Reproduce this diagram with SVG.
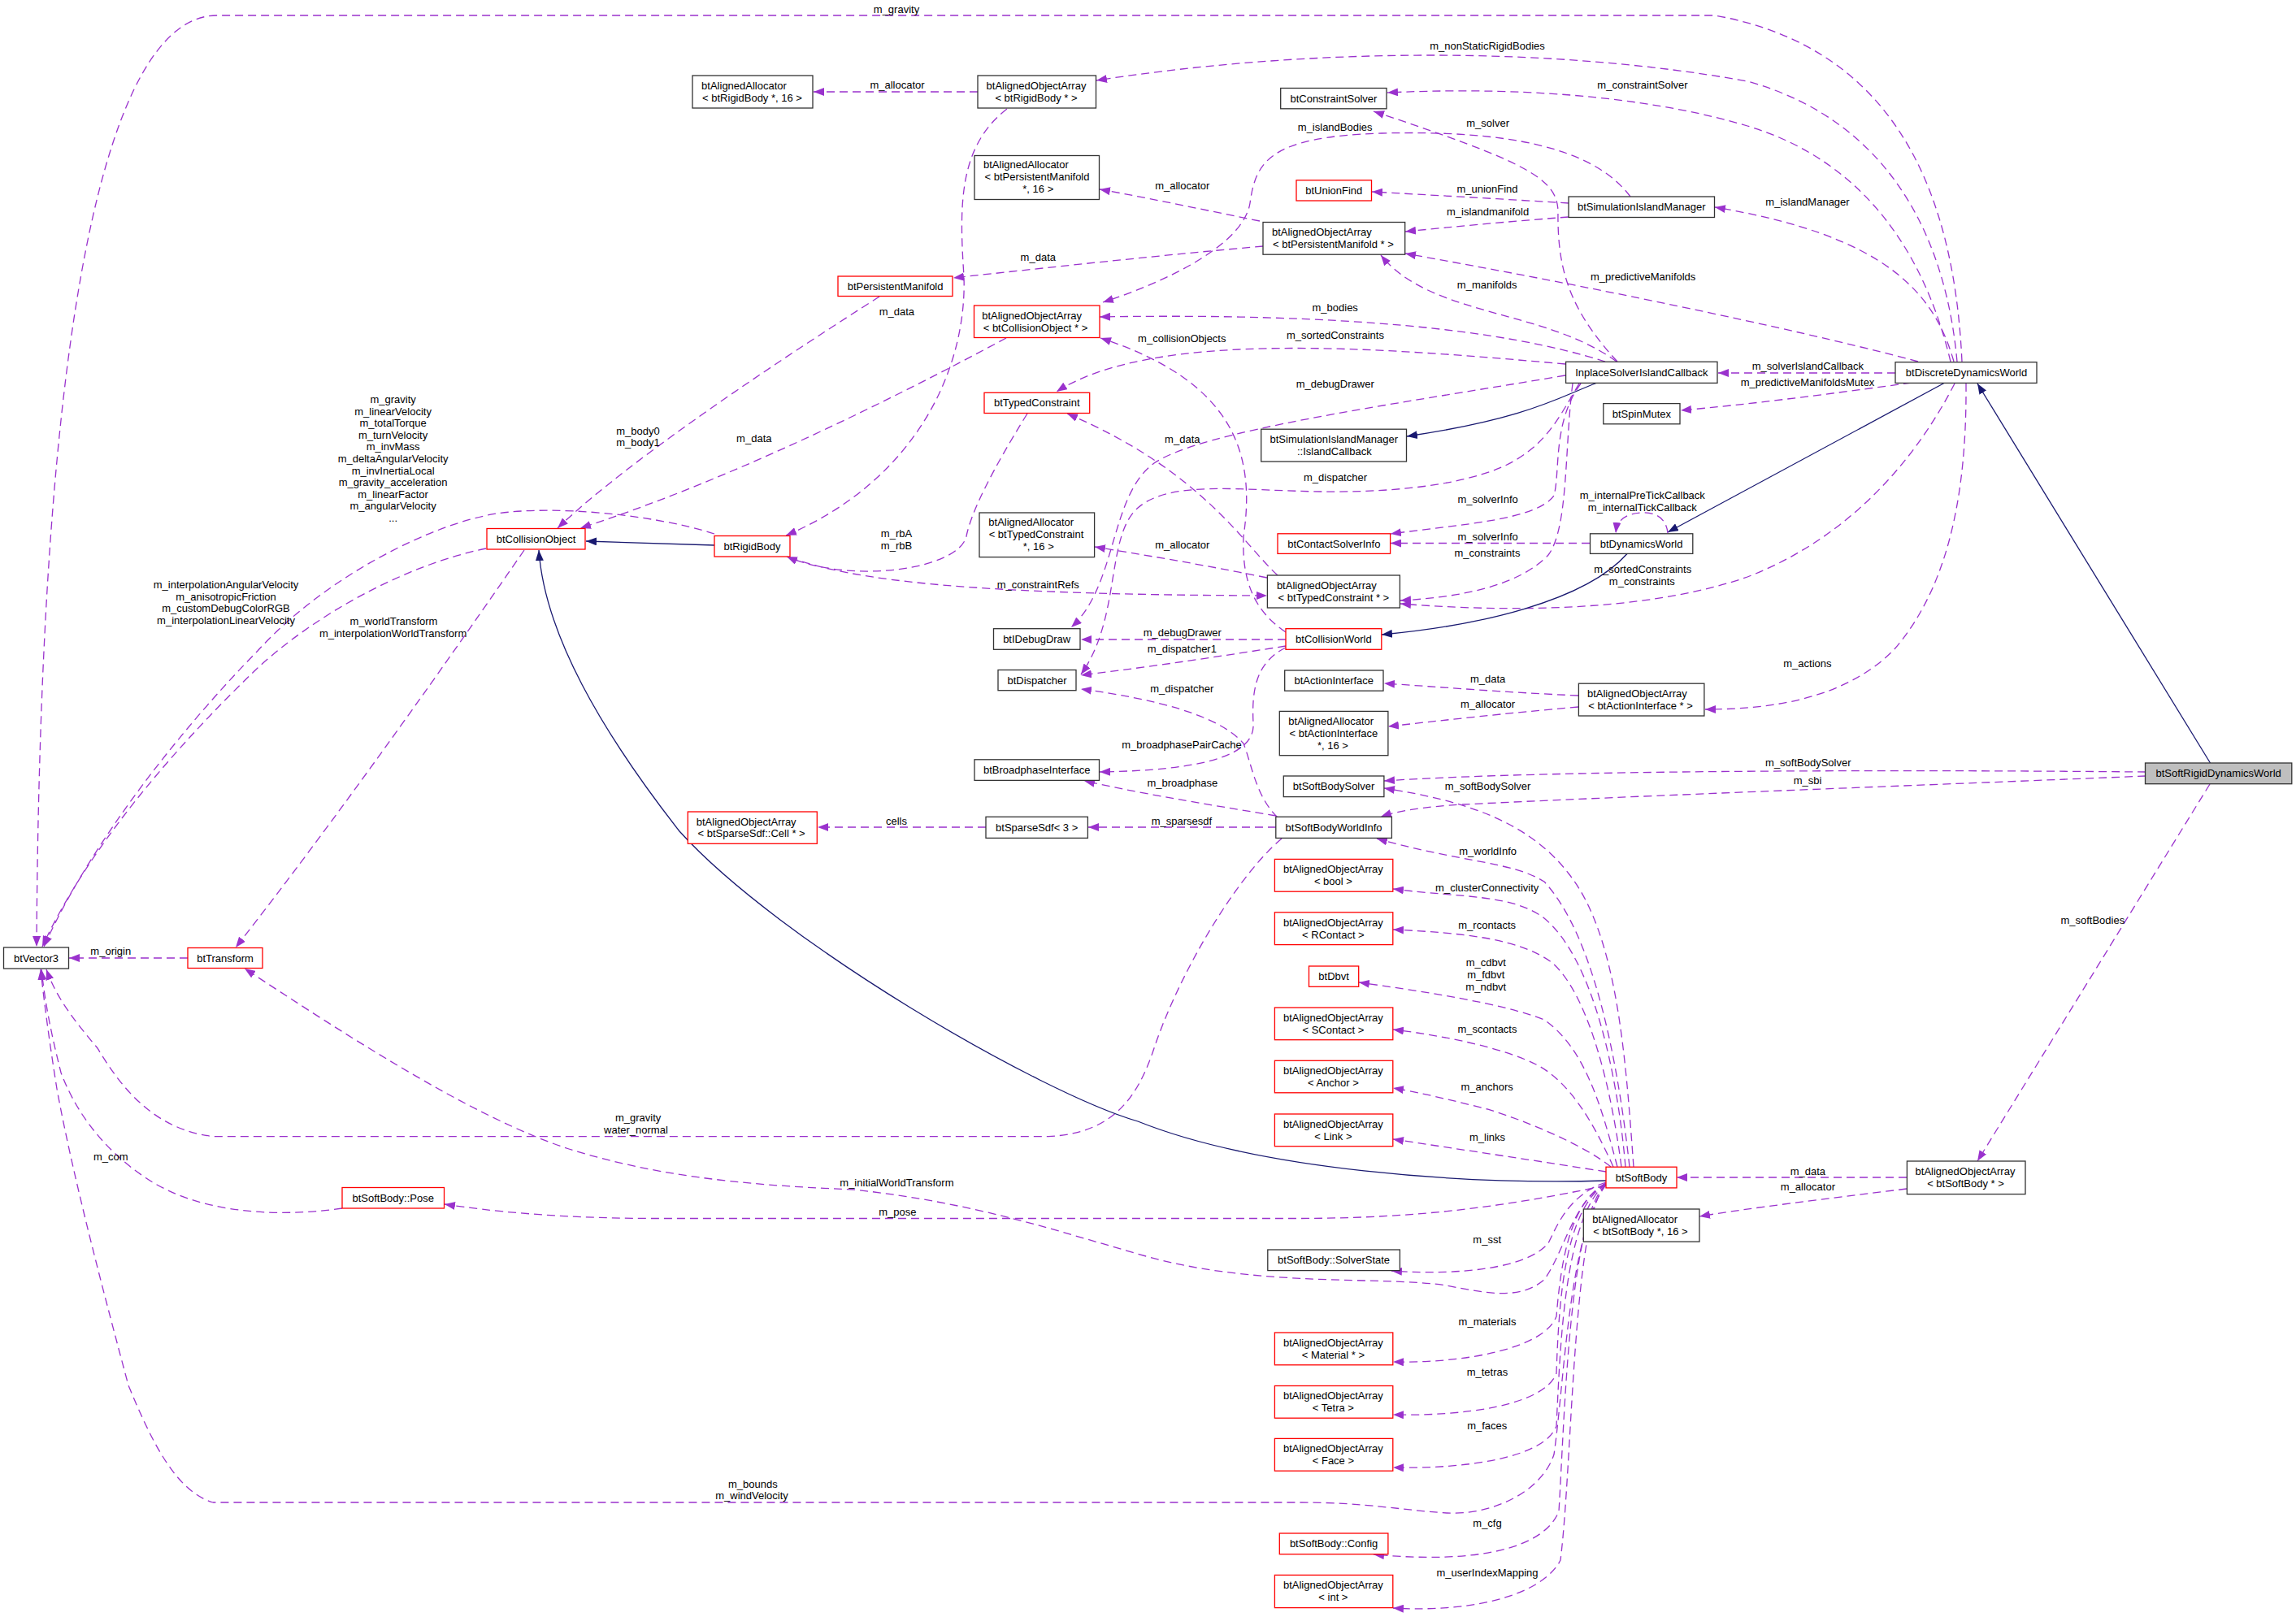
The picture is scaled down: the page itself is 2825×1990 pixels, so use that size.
<svg xmlns="http://www.w3.org/2000/svg" width="2825" height="1990" viewBox="0 0 2825 1990">
<style>
text{font-family:"Liberation Sans",Arial,sans-serif;font-size:13px;text-anchor:middle;dominant-baseline:central;fill:#000}
.n rect{fill:#fff;stroke:#333;stroke-width:1.3}
.r rect{stroke:#f00}
.g rect{fill:#bfbfbf}
.e{fill:none;stroke:#9a32cd;stroke-width:1.3;stroke-dasharray:10,6;marker-end:url(#ap)}
.i{fill:none;stroke:#191970;stroke-width:1.3;marker-end:url(#an)}
</style>
<defs>
<marker id="ap" viewBox="0 0 13 10" markerWidth="13" markerHeight="10" refX="13" refY="5" orient="auto" markerUnits="userSpaceOnUse"><path d="M0,0L13,5L0,10z" fill="#9a32cd"/></marker>
<marker id="an" viewBox="0 0 13 10" markerWidth="13" markerHeight="10" refX="13" refY="5" orient="auto" markerUnits="userSpaceOnUse"><path d="M0,0L13,5L0,10z" fill="#191970"/></marker>
</defs>
<rect width="2825" height="1990" fill="#fff"/>
<g id="connectors">
<path class="e" d="M2414,445 C2405,250 2340,60 2110,19 L267,19 C150,19 50,300 45,1165"/>
<path class="e" d="M2408,445 C2395,300 2330,150 2150,100 C1900,55 1600,60 1349,99"/>
<path class="e" d="M2400,445 C2370,320 2300,200 2150,155 C2050,125 1900,105 1707,114"/>
<path class="e" d="M2404,445 C2380,360 2320,290 2110,255"/>
<path class="e" d="M2360,445 C2250,415 2000,360 1729,312"/>
<path class="e" d="M2332,459 L2114,459"/>
<path class="e" d="M2352,471 C2250,485 2150,498 2068,505"/>
<path class="i" d="M2392,471.5 L2052,655"/>
<path class="e" d="M2419,472 C2420,600 2400,720 2330,800 C2270,860 2180,873 2098,873"/>
<path class="e" d="M2405,472 C2360,560 2280,660 2150,710 C2050,745 1900,757 1723,743"/>
<path class="i" d="M2719.5,939 L2433,472"/>
<path class="e" d="M2640,950 C2300,947 1900,948 1703,961"/>
<path class="e" d="M2640,955 C2400,965 2000,980 1800,990 C1750,993 1720,998 1699,1005"/>
<path class="e" d="M2719,965 L2433,1429"/>
<path class="e" d="M2346,1449 L2063,1449"/>
<path class="e" d="M2346,1463 C2250,1475 2150,1487 2091,1497"/>
<path class="e" d="M1930,267 C1850,273 1790,279 1729,285"/>
<path class="e" d="M1930,250 C1850,245 1760,240 1688,236"/>
<path class="e" d="M2006,242 C1960,180 1850,160 1700,164 C1560,168 1545,200 1538,250 C1530,300 1440,345 1357,372"/>
<path class="e" d="M1990,445 C1930,380 1916,330 1917,260 C1916,220 1880,200 1690,137"/>
<path class="e" d="M1989,445 C1900,380 1760,390 1699,314"/>
<path class="e" d="M1975,445 C1850,405 1650,385 1353,390"/>
<path class="e" d="M1926,448 C1700,428 1420,405 1300,482"/>
<path class="e" d="M1926,462 C1700,500 1480,530 1420,570 C1365,610 1375,720 1318,772"/>
<path class="i" d="M1964,471.5 C1920,488 1880,515 1731,537"/>
<path class="e" d="M1943,472 C1915,520 1900,550 1850,574 C1790,600 1700,606 1626,605 C1530,604 1440,590 1400,625 C1360,660 1380,760 1330,830"/>
<path class="e" d="M1945,472 C1910,520 1920,580 1912,610 C1890,640 1800,645 1711,657"/>
<path class="e" d="M1935,472 C1925,550 1930,650 1905,683 C1870,720 1800,735 1723,739"/>
<path class="e" d="M1956,668.5 L1711,668.5"/>
<path class="e" d="M2052,656 C2050,636 2035,630 2020,631 C2002,632 1990,638 1988,656"/>
<path class="i" d="M2002,681.5 C1950,740 1820,770 1700,781"/>
<path class="e" d="M1559,711 C1480,695 1420,685 1347,673"/>
<path class="e" d="M1572,708 C1530,670 1480,580 1313,509"/>
<path class="e" d="M972,686 C1050,715 1200,732 1559,733"/>
<path class="e" d="M1264,509 C1220,580 1195,630 1189,660 C1180,700 1050,720 968,685"/>
<path class="e" d="M1582,778 C1540,750 1528,710 1530,660 C1545,560 1520,470 1354,416"/>
<path class="e" d="M1582,787 L1330,787"/>
<path class="e" d="M1582,795 C1500,808 1420,820 1330,831"/>
<path class="e" d="M1582,797 C1545,815 1540,850 1542,890 C1545,930 1480,948 1353,950"/>
<path class="e" d="M1942,856 C1850,852 1780,846 1703,841"/>
<path class="e" d="M1942,870 C1850,878 1780,886 1708,894"/>
<path class="e" d="M1572,1006 C1545,980 1540,940 1530,915 C1500,880 1420,860 1330,848"/>
<path class="e" d="M1570,1004 C1500,992 1420,980 1334,961"/>
<path class="e" d="M1570,1018 L1339,1018"/>
<path class="e" d="M1213,1018 L1006,1018"/>
<path class="e" d="M1577,1032 C1520,1080 1450,1200 1420,1290 C1400,1350 1370,1395 1290,1398.6 L262,1398.6 C190,1390 150,1340 120,1290 C95,1260 70,1230 57,1193"/>
<path class="e" d="M2010,1436 C2000,1300 1990,1150 1930,1075 C1880,1010 1800,985 1703,970"/>
<path class="e" d="M2005,1436 C1990,1300 1960,1150 1900,1085 C1860,1060 1800,1062 1694,1032"/>
<path class="e" d="M2000,1436 C1990,1320 1960,1180 1900,1130 C1860,1100 1800,1105 1714,1094"/>
<path class="e" d="M1995,1436 C1980,1320 1950,1220 1910,1185 C1870,1155 1800,1148 1714,1144"/>
<path class="e" d="M1990,1436 C1970,1360 1950,1290 1900,1255 C1850,1235 1750,1220 1672,1209"/>
<path class="e" d="M1985,1436 C1960,1380 1930,1330 1890,1310 C1850,1290 1780,1275 1714,1267"/>
<path class="e" d="M1982,1436 C1950,1410 1880,1380 1830,1365 C1790,1355 1750,1345 1714,1339"/>
<path class="e" d="M1976,1442 C1900,1430 1800,1415 1714,1402"/>
<path class="i" d="M1976,1453 C1800,1458 1550,1440 1400,1380 C1280,1345 960,1160 836,1023 C740,900 670,780 663,677"/>
<path class="e" d="M1976,1459 C1850,1485 1750,1499 1600,1499.5 L800,1499.5 C680,1499 600,1490 547,1482"/>
<path class="e" d="M421,1487 C330,1500 240,1490 180,1450 C120,1410 90,1360 75,1320 C65,1280 56,1240 51,1193"/>
<path class="e" d="M1976,1456 C1935,1480 1925,1540 1900,1575 C1870,1600 1830,1592 1780,1582 C1700,1570 1550,1585 1410,1546 C1300,1515 1200,1480 1050,1464 C900,1458 800,1445 700,1414 C580,1375 420,1270 301,1192"/>
<path class="e" d="M1976,1455 C1930,1470 1915,1510 1905,1530 C1880,1560 1800,1570 1712,1564"/>
<path class="e" d="M1976,1456 C1930,1480 1920,1560 1915,1620 C1900,1660 1800,1678 1714,1676"/>
<path class="e" d="M1976,1456 C1925,1490 1918,1600 1915,1690 C1900,1730 1800,1743 1714,1741"/>
<path class="e" d="M1976,1456 C1925,1500 1920,1650 1915,1755 C1900,1795 1800,1808 1714,1806"/>
<path class="e" d="M1976,1457 C1930,1500 1925,1750 1918,1860 C1900,1905 1820,1925 1690,1913"/>
<path class="e" d="M1976,1457 C1935,1500 1935,1800 1920,1920 C1900,1960 1820,1985 1714,1979"/>
<path class="e" d="M1976,1458 C1930,1520 1925,1700 1912,1790 C1895,1840 1830,1865 1780,1862 C1720,1858 1680,1849 1600,1849 L262,1849 C215,1835 185,1770 158,1705 C130,1600 90,1450 70,1340 C62,1290 55,1240 50,1193"/>
<path class="e" d="M879,657 C800,632 680,622 611,632 C530,645 400,710 317,801 C220,900 110,1040 54,1165"/>
<path class="e" d="M598,675 C500,695 390,755 317,822 C220,915 110,1040 52,1165"/>
<path class="e" d="M645,677 C560,800 420,1000 290,1166"/>
<path class="e" d="M231,1179 L85,1179"/>
<path class="e" d="M1082,365 C980,430 780,560 686,650"/>
<path class="e" d="M1238,416 C1100,490 900,590 714,650"/>
<path class="e" d="M1239,134 C1180,180 1180,250 1186,340 C1190,450 1130,590 967,659"/>
<path class="e" d="M1203,113 L1001,113"/>
<path class="e" d="M1550,272 C1480,258 1420,245 1353,233"/>
<path class="e" d="M1554,303 C1450,312 1300,328 1173,342"/>
<path class="i" d="M879,671 L721,666"/>
<text x="1103" y="11.5">m_gravity</text>
<text x="1104" y="104.7">m_allocator</text>
<text x="1830" y="56.4">m_nonStaticRigidBodies</text>
<text x="2021" y="104.7">m_constraintSolver</text>
<text x="1642.7" y="156.4">m_islandBodies</text>
<text x="1830.6" y="151.7">m_solver</text>
<text x="1830" y="232.5">m_unionFind</text>
<text x="2224" y="248.7">m_islandManager</text>
<text x="1454.8" y="228.6">m_allocator</text>
<text x="1830.6" y="260.3">m_islandmanifold</text>
<text x="1277.3" y="316.2">m_data</text>
<text x="1829.7" y="350.4">m_manifolds</text>
<text x="2021.7" y="340.6">m_predictiveManifolds</text>
<text x="1642.7" y="378.2">m_bodies</text>
<text x="1103.4" y="383.8">m_data</text>
<text x="1454.3" y="416.7">m_collisionObjects</text>
<text x="1643" y="412.4">m_sortedConstraints</text>
<text x="2224.4" y="450.4">m_solverIslandCallback</text>
<text x="2224" y="470.5">m_predictiveManifoldsMutex</text>
<text x="1642.7" y="472.2">m_debugDrawer</text>
<text x="483.6" y="491.5">m_gravity</text>
<text x="483.6" y="506.1">m_linearVelocity</text>
<text x="483.6" y="520.7">m_totalTorque</text>
<text x="483.6" y="535.3">m_turnVelocity</text>
<text x="483.6" y="549.9">m_invMass</text>
<text x="483.6" y="564.5">m_deltaAngularVelocity</text>
<text x="483.6" y="579.1">m_invInertiaLocal</text>
<text x="483.6" y="593.7">m_gravity_acceleration</text>
<text x="483.6" y="608.3">m_linearFactor</text>
<text x="483.6" y="622.9">m_angularVelocity</text>
<text x="483.6" y="637.5">...</text>
<text x="785" y="530.8">m_body0</text>
<text x="785" y="544.9">m_body1</text>
<text x="927.8" y="539.7">m_data</text>
<text x="1454.8" y="540.6">m_data</text>
<text x="1643" y="587.6">m_dispatcher</text>
<text x="2020.8" y="609">m_internalPreTickCallback</text>
<text x="2020.8" y="624">m_internalTickCallback</text>
<text x="1830.6" y="614.5">m_solverInfo</text>
<text x="1103" y="656.8">m_rbA</text>
<text x="1103" y="671.5">m_rbB</text>
<text x="1830.6" y="660.7">m_solverInfo</text>
<text x="1454.8" y="670.7">m_allocator</text>
<text x="1830" y="680.5">m_constraints</text>
<text x="2021.2" y="700.6">m_sortedConstraints</text>
<text x="2020.3" y="715.6">m_constraints</text>
<text x="1277.3" y="719.4">m_constraintRefs</text>
<text x="278" y="719.8">m_interpolationAngularVelocity</text>
<text x="278" y="734.8">m_anisotropicFriction</text>
<text x="278" y="748.9">m_customDebugColorRGB</text>
<text x="278" y="763.4">m_interpolationLinearVelocity</text>
<text x="484.5" y="764.7">m_worldTransform</text>
<text x="483.6" y="779.7">m_interpolationWorldTransform</text>
<text x="1454.8" y="778.4">m_debugDrawer</text>
<text x="1454.3" y="798.9">m_dispatcher1</text>
<text x="2223.9" y="816.8">m_actions</text>
<text x="1830.6" y="835.6">m_data</text>
<text x="1454.3" y="847.6">m_dispatcher</text>
<text x="1830.6" y="866.8">m_allocator</text>
<text x="1454" y="916.4">m_broadphasePairCache</text>
<text x="2224.8" y="938.6">m_softBodySolver</text>
<text x="2224" y="960.9">m_sbi</text>
<text x="1454.8" y="963.4">m_broadphase</text>
<text x="1830.6" y="967.7">m_softBodySolver</text>
<text x="1103" y="1010.4">cells</text>
<text x="1453.9" y="1010.9">m_sparsesdf</text>
<text x="1830.6" y="1047.6">m_worldInfo</text>
<text x="1829.7" y="1092.5">m_clusterConnectivity</text>
<text x="2574.8" y="1132.2">m_softBodies</text>
<text x="1829.7" y="1138.6">m_rcontacts</text>
<text x="1828.3" y="1184.8">m_cdbvt</text>
<text x="1828.3" y="1199.7">m_fdbvt</text>
<text x="1828.3" y="1214.7">m_ndbvt</text>
<text x="136.3" y="1170.7">m_origin</text>
<text x="1830" y="1266.8">m_scontacts</text>
<text x="1829.7" y="1337">m_anchors</text>
<text x="785.1" y="1375.6">m_gravity</text>
<text x="782.4" y="1390.5">water_normal</text>
<text x="1830" y="1399.5">m_links</text>
<text x="136.3" y="1423.8">m_com</text>
<text x="2224.4" y="1441">m_data</text>
<text x="1103.4" y="1455.9">m_initialWorldTransform</text>
<text x="2224.4" y="1460.6">m_allocator</text>
<text x="1104.3" y="1491.8">m_pose</text>
<text x="1829.7" y="1525.1">m_sst</text>
<text x="1830" y="1626.4">m_materials</text>
<text x="1830" y="1688.4">m_tetras</text>
<text x="1829.7" y="1754.6">m_faces</text>
<text x="926.4" y="1826.4">m_bounds</text>
<text x="925" y="1840.5">m_windVelocity</text>
<text x="1830" y="1874.7">m_cfg</text>
<text x="1830" y="1935.8">m_userIndexMapping</text>
</g>
<g id="btVector3" class="n"><rect x="4.5" y="1166" width="80" height="26"/><text x="44.5" y="1179">btVector3</text></g>
<g id="btTransform" class="n r"><rect x="231" y="1166.5" width="92" height="25"/><text x="277" y="1179">btTransform</text></g>
<g id="btCollisionObject" class="n r"><rect x="599" y="650.5" width="121" height="25.5"/><text x="659.5" y="663.2">btCollisionObject</text></g>
<g id="btRigidBody" class="n r"><rect x="879" y="659.5" width="93" height="25.5"/><text x="925.5" y="672.2">btRigidBody</text></g>
<g id="btAlignedAllocator_btRigidBody" class="n"><rect x="852" y="93" width="148" height="40"/><text x="915.5" y="105">btAlignedAllocator</text><text x="925.5" y="120">&lt; btRigidBody *, 16 &gt;</text></g>
<g id="btAlignedObjectArray_btRigidBody" class="n"><rect x="1203" y="93" width="145.5" height="40"/><text x="1275" y="105">btAlignedObjectArray</text><text x="1275" y="120">&lt; btRigidBody * &gt;</text></g>
<g id="btAlignedAllocator_btPersistentManifold" class="n"><rect x="1199" y="191.5" width="153.5" height="54"/><text x="1262.4" y="202.8">btAlignedAllocator</text><text x="1276" y="217.8">&lt; btPersistentManifold</text><text x="1277.3" y="232.8">*, 16 &gt;</text></g>
<g id="btPersistentManifold" class="n r"><rect x="1031" y="340" width="141" height="24.5"/><text x="1101.6" y="352">btPersistentManifold</text></g>
<g id="btAlignedObjectArray_btCollisionObject" class="n r"><rect x="1198.5" y="376" width="154.5" height="39.5"/><text x="1269.6" y="388">btAlignedObjectArray</text><text x="1274" y="403">&lt; btCollisionObject * &gt;</text></g>
<g id="btTypedConstraint" class="n r"><rect x="1211" y="483.3" width="129.7" height="25.2"/><text x="1275.8" y="495.9">btTypedConstraint</text></g>
<g id="btAlignedAllocator_btTypedConstraint" class="n"><rect x="1205" y="631" width="141.6" height="54.6"/><text x="1268.7" y="642.6">btAlignedAllocator</text><text x="1275" y="657.6">&lt; btTypedConstraint</text><text x="1277.8" y="672.6">*, 16 &gt;</text></g>
<g id="btIDebugDraw" class="n"><rect x="1222.5" y="773.7" width="106.5" height="25.6"/><text x="1275.7" y="786.5">btIDebugDraw</text></g>
<g id="btDispatcher" class="n"><rect x="1228" y="824.5" width="96" height="25.2"/><text x="1276" y="837.1">btDispatcher</text></g>
<g id="btBroadphaseInterface" class="n"><rect x="1199" y="934.8" width="153.5" height="25.6"/><text x="1275.7" y="947.6">btBroadphaseInterface</text></g>
<g id="btSparseSdf_3" class="n"><rect x="1213" y="1005.3" width="125.4" height="26.1"/><text x="1275.7" y="1018.3">btSparseSdf&lt; 3 &gt;</text></g>
<g id="btAlignedObjectArray_btSparseSdf_Cell" class="n r"><rect x="846.3" y="999" width="159" height="39.3"/><text x="918.2" y="1011">btAlignedObjectArray</text><text x="924.6" y="1025.5">&lt; btSparseSdf::Cell * &gt;</text></g>
<g id="btConstraintSolver" class="n"><rect x="1575.7" y="108.5" width="130.3" height="25.3"/><text x="1640.9" y="121.1">btConstraintSolver</text></g>
<g id="btUnionFind" class="n r"><rect x="1595" y="221.8" width="92.5" height="25.2"/><text x="1641.3" y="234.4">btUnionFind</text></g>
<g id="btAlignedObjectArray_btPersistentManifold" class="n"><rect x="1554" y="273.5" width="174.7" height="39.7"/><text x="1626.4" y="285.5">btAlignedObjectArray</text><text x="1640.4" y="300.5">&lt; btPersistentManifold * &gt;</text></g>
<g id="btSimulationIslandManager" class="n"><rect x="1930" y="242" width="179.5" height="25.5"/><text x="2019.7" y="254.7">btSimulationIslandManager</text></g>
<g id="InplaceSolverIslandCallback" class="n"><rect x="1926.6" y="445.3" width="186.4" height="26.1"/><text x="2019.8" y="458.3">InplaceSolverIslandCallback</text></g>
<g id="btSpinMutex" class="n"><rect x="1972.8" y="496.6" width="94.2" height="25.2"/><text x="2019.9" y="509.2">btSpinMutex</text></g>
<g id="btSimulationIslandManager_IslandCallback" class="n"><rect x="1551.7" y="528.2" width="178.8" height="39.8"/><text x="1641.3" y="540.5">btSimulationIslandManager</text><text x="1641.8" y="555.5">::IslandCallback</text></g>
<g id="btContactSolverInfo" class="n r"><rect x="1572" y="656.8" width="138.6" height="24.6"/><text x="1641.3" y="669.1">btContactSolverInfo</text></g>
<g id="btDynamicsWorld" class="n"><rect x="1956.5" y="656.8" width="126.3" height="24.6"/><text x="2019.6" y="669.1">btDynamicsWorld</text></g>
<g id="btDiscreteDynamicsWorld" class="n"><rect x="2332" y="445.7" width="174" height="25.7"/><text x="2419.5" y="458.5">btDiscreteDynamicsWorld</text></g>
<g id="btAlignedObjectArray_btTypedConstraint" class="n"><rect x="1559.4" y="708" width="163" height="40"/><text x="1632.3" y="720.5">btAlignedObjectArray</text><text x="1640.9" y="735.5">&lt; btTypedConstraint * &gt;</text></g>
<g id="btCollisionWorld" class="n r"><rect x="1582" y="773.7" width="117.8" height="25.6"/><text x="1640.9" y="786.5">btCollisionWorld</text></g>
<g id="btActionInterface" class="n"><rect x="1580.7" y="825" width="121.3" height="25.2"/><text x="1641.3" y="837.6">btActionInterface</text></g>
<g id="btAlignedObjectArray_btActionInterface" class="n"><rect x="1942.4" y="841.2" width="154.5" height="39.8"/><text x="2014.4" y="853.6">btAlignedObjectArray</text><text x="2018.5" y="868.6">&lt; btActionInterface * &gt;</text></g>
<g id="btAlignedAllocator_btActionInterface" class="n"><rect x="1574.3" y="875.4" width="133.6" height="54.3"/><text x="1637.7" y="887">btAlignedAllocator</text><text x="1640.9" y="902">&lt; btActionInterface</text><text x="1640" y="917">*, 16 &gt;</text></g>
<g id="btSoftBodySolver" class="n"><rect x="1579.3" y="955" width="123.6" height="25.6"/><text x="1641.1" y="967.8">btSoftBodySolver</text></g>
<g id="btSoftBodyWorldInfo" class="n"><rect x="1569.8" y="1005.3" width="142.6" height="26.1"/><text x="1641.1" y="1018.3">btSoftBodyWorldInfo</text></g>
<g id="btAlignedObjectArray_bool" class="n r"><rect x="1568.4" y="1057.4" width="145.4" height="39.8"/><text x="1640.4" y="1069.6">btAlignedObjectArray</text><text x="1640.4" y="1084.6">&lt; bool &gt;</text></g>
<g id="btAlignedObjectArray_RContact" class="n r"><rect x="1568.4" y="1122.8" width="145.4" height="39.8"/><text x="1640.4" y="1135">btAlignedObjectArray</text><text x="1640.4" y="1150">&lt; RContact &gt;</text></g>
<g id="btDbvt" class="n r"><rect x="1610.5" y="1189" width="61.2" height="25.3"/><text x="1641.1" y="1201.7">btDbvt</text></g>
<g id="btAlignedObjectArray_SContact" class="n r"><rect x="1568.4" y="1240" width="145.4" height="39.7"/><text x="1640.4" y="1252.2">btAlignedObjectArray</text><text x="1640.4" y="1267.2">&lt; SContact &gt;</text></g>
<g id="btAlignedObjectArray_Anchor" class="n r"><rect x="1568.4" y="1305.3" width="145.4" height="39.5"/><text x="1640.4" y="1317.4">btAlignedObjectArray</text><text x="1640.4" y="1332.4">&lt; Anchor &gt;</text></g>
<g id="btAlignedObjectArray_Link" class="n r"><rect x="1568.4" y="1371" width="145.4" height="39.7"/><text x="1640.4" y="1383.2">btAlignedObjectArray</text><text x="1640.4" y="1398.2">&lt; Link &gt;</text></g>
<g id="btSoftBody" class="n r"><rect x="1976" y="1436.2" width="87" height="25.7"/><text x="2019.5" y="1449">btSoftBody</text></g>
<g id="btAlignedAllocator_btSoftBody" class="n"><rect x="1948.3" y="1488" width="142.7" height="40.1"/><text x="2011.7" y="1500.3">btAlignedAllocator</text><text x="2018.5" y="1515.3">&lt; btSoftBody *, 16 &gt;</text></g>
<g id="btSoftBody_SolverState" class="n"><rect x="1559.8" y="1538" width="162.6" height="25.6"/><text x="1641.1" y="1550.8">btSoftBody::SolverState</text></g>
<g id="btAlignedObjectArray_Material" class="n r"><rect x="1568.4" y="1640" width="145.4" height="39.8"/><text x="1640.4" y="1652.2">btAlignedObjectArray</text><text x="1640.4" y="1667.2">&lt; Material * &gt;</text></g>
<g id="btAlignedObjectArray_Tetra" class="n r"><rect x="1568.4" y="1705.5" width="145.4" height="39.7"/><text x="1640.4" y="1717.7">btAlignedObjectArray</text><text x="1640.4" y="1732.7">&lt; Tetra &gt;</text></g>
<g id="btAlignedObjectArray_Face" class="n r"><rect x="1568.4" y="1770.4" width="145.4" height="39.8"/><text x="1640.4" y="1782.6">btAlignedObjectArray</text><text x="1640.4" y="1797.6">&lt; Face &gt;</text></g>
<g id="btSoftBody_Config" class="n r"><rect x="1574.3" y="1887" width="133.6" height="25.7"/><text x="1641.1" y="1899.8">btSoftBody::Config</text></g>
<g id="btAlignedObjectArray_int" class="n r"><rect x="1568.4" y="1938.4" width="145.4" height="40.2"/><text x="1640.4" y="1950.8">btAlignedObjectArray</text><text x="1640.4" y="1965.8">&lt; int &gt;</text></g>
<g id="btSoftBody_Pose" class="n r"><rect x="421" y="1461.5" width="125.5" height="25.5"/><text x="483.7" y="1474.2">btSoftBody::Pose</text></g>
<g id="btAlignedObjectArray_btSoftBody" class="n"><rect x="2346.4" y="1429" width="145.6" height="40.6"/><text x="2418" y="1441.8">btAlignedObjectArray</text><text x="2418.5" y="1456.8">&lt; btSoftBody * &gt;</text></g>
<g id="btSoftRigidDynamicsWorld" class="n g"><rect x="2639.5" y="939" width="180.3" height="25.7"/><text x="2729.6" y="951.8">btSoftRigidDynamicsWorld</text></g>
</svg>
